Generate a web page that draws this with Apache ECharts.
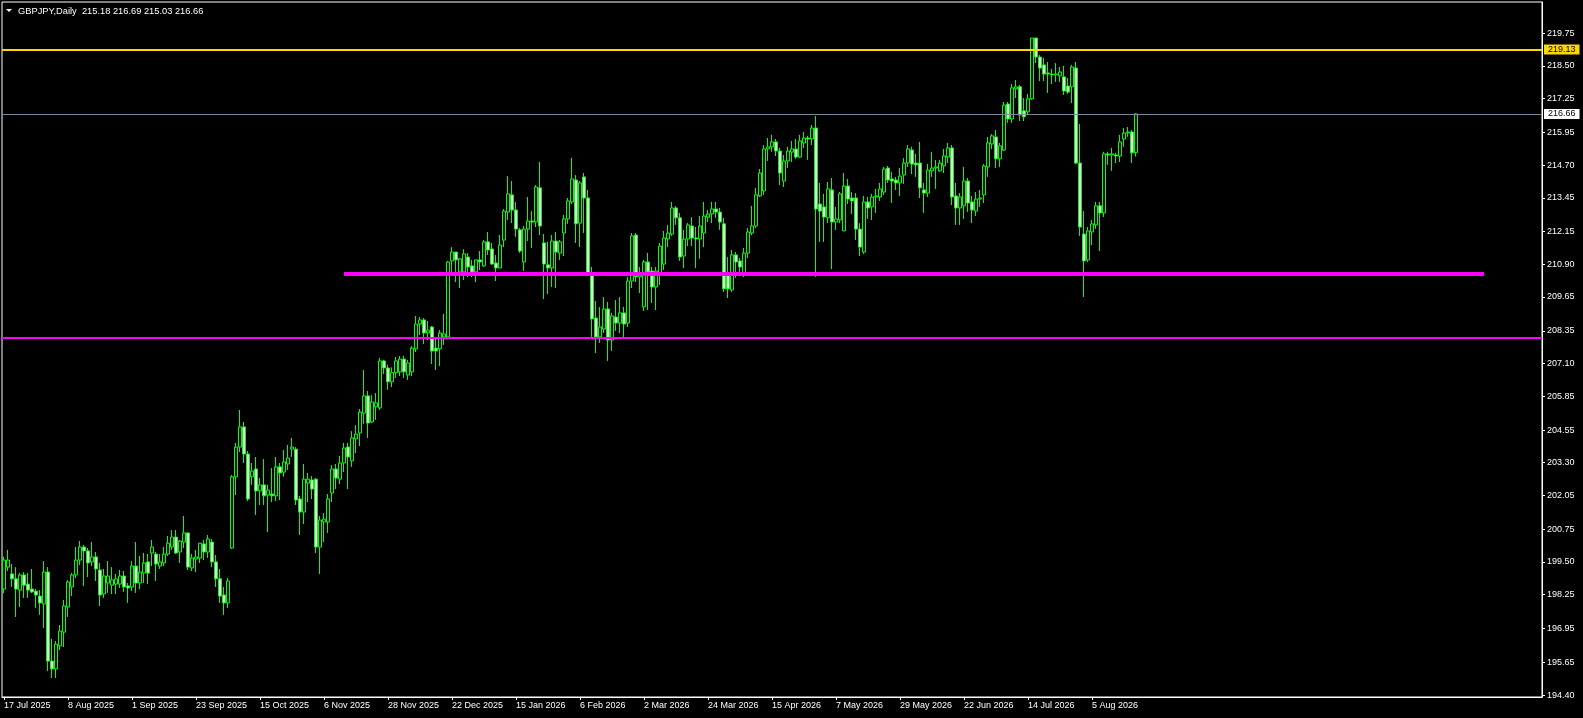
<!DOCTYPE html>
<html>
<head>
<meta charset="utf-8">
<script src="https://cdn.jsdelivr.net/npm/echarts@6/dist/echarts.min.js"></script>
<style>
html,body{margin:0;padding:0;background:#000;}
#chart{width:1583px;height:718px;}
</style>
</head>
<body>
<div id="chart"></div>
<script>
// ---------- data ----------
const symbolName = 'GBPJPY';
const timeframe = 'Daily';
const firstDate = '2025-07-17';
const holidays = ['2025-12-25', '2026-01-01'];
const totalSlots = 385; // bars visible across the chart width (incl. empty future)

const opens = [
198.46,199.30,199.04,198.85,198.42,199.00,198.65,198.46,198.38,198.19,
197.89,199.11,195.70,195.40,196.28,196.81,197.77,198.54,199.00,199.57,
200.07,199.92,199.50,199.69,199.19,198.27,198.69,198.61,198.65,198.65,
198.96,198.58,198.54,199.34,198.69,199.07,199.50,199.84,199.80,199.34,
199.46,199.80,200.07,200.45,199.88,200.26,200.61,199.27,199.61,199.65,
200.19,199.88,200.26,199.50,198.85,198.23,197.93,200.03,202.76,203.90,
204.67,203.63,202.76,203.06,202.22,202.45,202.06,202.10,202.03,203.14,
202.94,203.25,203.82,203.82,201.91,201.41,202.52,202.64,202.67,200.07,
201.03,201.03,202.14,203.06,202.67,203.29,203.90,203.37,204.21,204.44,
205.20,205.86,204.86,205.44,205.40,207.20,206.93,206.40,206.75,206.78,
207.27,206.66,206.78,207.66,208.61,208.77,208.27,208.50,207.69,207.66,
208.12,208.12,211.03,211.37,210.61,210.61,211.18,210.84,210.61,211.07,
210.84,211.76,211.49,210.95,210.76,211.83,212.90,213.56,212.98,212.22,
210.99,212.25,212.56,212.52,213.83,211.72,210.88,210.76,211.79,211.33,
212.10,212.64,213.29,214.13,212.48,214.25,213.44,210.57,208.84,208.12,
208.42,209.19,208.00,208.88,208.65,209.04,208.65,210.26,212.02,210.42,
209.27,210.99,210.64,210.03,210.57,210.91,211.87,212.06,213.06,212.68,
211.22,211.87,212.37,211.91,211.87,212.10,212.71,212.83,213.02,212.90,
212.45,210.57,209.92,211.26,211.03,210.57,211.33,212.10,212.37,213.52,
213.71,215.32,215.40,215.59,215.24,214.09,214.86,215.20,215.32,215.01,
215.55,215.74,215.70,216.12,213.21,213.10,212.68,213.75,212.52,212.60,
212.18,213.90,213.44,213.44,212.25,211.37,213.29,213.10,213.48,213.48,
213.67,214.59,214.17,214.13,214.02,214.32,214.78,215.28,214.78,214.78,
213.75,213.63,214.48,214.59,214.48,214.67,215.01,215.36,213.52,213.06,
213.14,214.09,213.29,212.94,213.40,213.56,214.63,215.51,215.78,214.94,
215.28,217.04,216.47,217.62,217.70,216.78,216.74,217.24,219.57,218.84,
218.54,218.23,218.19,218.16,218.12,218.08,217.73,217.70,218.42,214.78,
212.06,211.07,212.14,212.41,213.14,212.87,215.13,215.09,215.09,215.05,
215.70,215.93,215.97,215.18
];
const closes = [
199.57,199.57,198.85,198.46,199.00,198.61,198.42,198.35,198.23,197.93,
199.11,195.70,195.40,196.35,196.85,197.81,198.73,199.00,199.57,200.07,
199.92,199.46,199.69,199.23,198.23,198.96,198.96,198.81,198.85,198.96,
198.54,198.50,199.34,198.69,199.11,199.46,199.07,200.07,199.42,199.50,
199.80,200.22,200.45,199.84,200.30,200.61,199.30,199.65,199.69,200.22,
199.88,200.38,199.50,198.85,198.19,197.93,198.77,202.76,203.90,204.67,
203.63,201.91,202.98,202.22,202.45,202.03,202.25,202.03,203.14,202.91,
203.33,203.48,203.90,201.87,201.41,202.67,202.67,202.29,200.07,201.10,
201.14,201.91,203.06,202.71,203.29,203.86,203.52,204.25,204.40,205.24,
205.86,204.82,205.63,205.59,207.20,206.93,206.40,206.75,207.20,207.27,
206.78,207.12,207.69,208.61,208.77,208.27,208.38,207.58,207.58,208.27,
208.23,210.99,211.37,211.07,211.11,211.30,210.80,210.61,211.07,210.99,
211.76,211.45,210.91,210.76,211.64,212.94,213.60,212.98,212.25,211.41,
212.25,212.56,212.52,213.86,212.37,210.91,210.76,211.79,211.37,211.76,
212.64,213.33,214.17,212.45,214.02,213.44,210.57,208.81,208.12,208.50,
209.19,208.00,208.92,208.65,209.04,208.61,210.26,211.99,210.42,210.49,
210.99,210.61,210.03,210.64,211.60,211.91,212.10,213.06,212.68,211.18,
211.87,212.41,211.91,211.87,212.37,212.75,212.83,213.02,212.90,212.52,
209.96,209.96,211.26,210.99,210.80,211.33,212.14,212.37,213.56,214.40,
215.32,215.40,215.59,215.24,214.40,214.86,215.24,215.32,215.01,215.63,
215.74,215.70,216.12,213.02,212.94,212.71,213.79,212.52,212.64,213.60,
213.90,213.40,213.33,212.25,211.56,213.29,213.06,213.48,213.52,213.79,
214.55,214.13,214.09,214.02,214.28,214.78,215.32,214.74,214.71,213.83,
213.63,214.51,214.59,214.63,214.78,215.05,215.36,213.48,213.06,213.48,
214.09,213.25,212.98,213.40,213.44,214.67,215.55,215.82,214.94,215.44,
217.00,216.47,217.66,217.70,216.62,216.55,217.24,219.57,218.84,218.42,
218.19,218.19,218.16,218.19,218.27,217.54,217.50,218.46,214.78,212.33,
211.03,212.18,212.45,213.14,212.87,215.13,215.09,215.13,215.05,215.59,
215.93,215.97,215.17,216.66
];
const lows = [
198.30,199.15,198.54,197.39,197.77,198.12,198.12,198.31,197.73,197.47,
196.97,195.32,195.05,195.05,196.12,196.24,197.39,198.19,198.88,199.38,
198.58,198.92,199.34,198.77,197.81,198.12,198.31,198.27,198.27,198.50,
198.35,197.93,198.38,198.31,198.46,198.69,198.65,199.34,198.77,199.23,
199.34,199.73,199.96,199.80,199.46,200.03,199.19,199.15,199.11,199.46,
199.57,199.65,199.30,198.54,197.93,197.47,197.73,199.99,202.06,203.71,
203.29,201.83,202.45,201.30,201.68,201.68,200.64,201.79,201.83,201.87,
202.76,203.02,203.52,201.68,200.53,200.95,201.79,201.91,199.84,199.04,
200.26,200.61,201.79,202.29,202.48,202.94,202.29,203.14,203.67,203.94,
204.79,204.25,204.82,204.94,205.32,206.70,206.10,206.20,206.55,206.62,
206.55,206.47,206.62,207.54,208.19,207.85,208.00,207.08,206.85,207.00,
207.81,208.08,210.61,210.22,209.99,210.30,210.41,210.41,210.22,210.68,
210.80,211.26,210.88,210.26,210.76,211.56,212.60,212.48,211.95,211.34,
210.64,211.79,211.53,212.33,212.02,209.57,209.76,210.03,209.99,211.07,
211.22,212.45,213.21,211.72,211.56,212.10,210.57,208.12,207.50,207.89,
208.27,207.20,207.58,208.35,208.27,208.08,208.50,209.99,210.22,209.80,
209.11,209.15,209.42,209.15,210.11,210.68,211.56,211.99,212.41,211.03,
210.76,211.60,211.60,210.76,211.11,211.56,212.52,212.48,212.68,212.22,
209.84,209.61,209.84,210.38,210.61,210.41,211.14,212.02,212.29,213.48,
213.56,214.86,215.21,215.05,213.94,213.86,214.59,214.82,214.94,214.98,
215.36,214.90,215.47,210.42,211.76,211.76,212.48,210.72,212.22,212.48,
212.18,213.21,212.83,211.83,211.22,211.30,212.64,212.60,212.87,213.33,
213.56,214.02,213.25,213.75,213.52,213.98,214.63,214.36,214.25,213.44,
212.87,213.48,214.25,213.79,214.44,214.40,214.78,213.17,212.41,212.41,
212.64,212.91,212.48,212.75,213.10,213.25,214.25,215.32,214.59,214.63,
215.24,216.32,216.32,217.27,216.39,216.39,216.62,217.20,218.61,217.92,
217.92,217.47,217.81,217.89,217.89,217.39,217.43,217.08,214.74,211.99,
209.65,210.99,211.64,212.26,211.41,212.71,214.71,214.48,214.78,214.82,
215.40,215.78,214.78,215.03
];
const highs = [
199.70,199.96,199.42,199.30,199.07,199.11,199.07,199.23,198.46,198.42,
199.53,199.30,196.55,196.47,197.08,198.04,198.81,199.07,200.07,200.30,
200.15,200.03,200.26,199.88,199.46,199.23,199.53,199.30,199.04,199.19,
199.15,198.69,199.53,200.26,199.73,199.84,199.80,200.34,199.88,199.80,
200.07,200.49,200.72,200.72,200.34,201.26,200.61,199.80,199.96,200.22,
200.34,200.53,200.38,199.76,199.23,198.54,198.88,202.83,204.06,205.32,
204.86,203.75,203.29,203.52,202.71,203.44,202.45,203.10,203.52,203.29,
203.79,203.98,204.25,203.90,202.03,203.25,202.91,202.79,202.71,201.26,
201.37,202.10,203.21,203.25,203.56,204.06,204.06,204.51,204.74,205.36,
206.85,206.05,205.89,205.97,207.31,207.24,207.05,206.95,207.35,207.39,
207.39,207.24,207.77,208.92,208.88,208.84,208.73,208.54,208.08,208.38,
209.00,211.03,211.56,211.37,211.14,211.48,211.33,211.07,211.07,211.41,
211.83,212.14,211.72,211.26,212.02,213.02,214.28,214.09,213.29,212.29,
212.37,213.48,212.94,213.94,214.82,212.06,211.76,212.02,212.14,211.83,
212.79,213.44,214.98,214.32,214.09,214.40,213.75,210.80,209.50,209.26,
209.65,209.46,209.04,209.53,209.65,209.27,210.42,212.10,212.10,210.80,
211.07,211.34,210.80,210.80,211.72,212.18,212.41,213.29,213.13,212.87,
212.22,212.48,212.71,212.33,212.75,213.29,212.98,213.29,213.29,213.06,
212.68,211.18,211.45,211.37,211.14,211.53,212.29,213.14,213.83,214.55,
215.47,215.74,215.86,215.70,215.36,215.09,215.40,215.63,215.70,215.86,
215.97,215.82,216.24,216.58,214.02,213.60,214.06,214.21,213.10,213.67,
214.40,214.17,213.67,213.63,212.48,213.52,213.48,213.60,213.79,214.02,
214.63,214.67,214.44,214.25,214.59,214.97,215.47,215.40,215.13,215.59,
214.02,214.74,215.21,214.90,214.90,215.32,215.55,215.47,214.02,213.63,
214.63,214.21,213.52,213.67,213.75,214.74,215.78,215.89,216.05,215.55,
217.12,217.12,217.81,217.96,217.77,217.27,217.43,219.57,219.57,218.92,
218.81,218.65,218.39,218.61,218.46,218.50,218.04,218.54,218.65,216.28,
212.94,212.33,212.60,213.29,213.29,215.21,215.21,215.36,215.17,215.86,
216.12,216.16,216.05,216.69
];

const yTicks = [194.40,195.65,196.95,198.25,199.50,200.75,202.05,203.30,204.55,205.85,
  207.10,208.35,209.65,210.90,212.15,213.45,214.70,215.95,217.25,218.50,219.75];
const yMin = 194.324;
const yMax = 220.95;

const resistanceLevel = 219.13;     // gold line
const lowerSupportLevel = 208.07;   // thin magenta line
const supportLevel = 210.53;        // thick magenta segment
const supportFromBar = 85;
const supportToBar = 370;
const labelEvery = 16;

// ---------- categories ----------
const MONTHS = ['Jan','Feb','Mar','Apr','May','Jun','Jul','Aug','Sep','Oct','Nov','Dec'];
function tradingDays(start, count, skip) {
  const out = [];
  const d = new Date(start + 'T00:00:00Z');
  while (out.length < count) {
    const wd = d.getUTCDay();
    const iso = d.toISOString().slice(0, 10);
    if (wd !== 0 && wd !== 6 && skip.indexOf(iso) < 0) {
      out.push(d.getUTCDate() + ' ' + MONTHS[d.getUTCMonth()] + ' ' + d.getUTCFullYear());
    }
    d.setUTCDate(d.getUTCDate() + 1);
  }
  return out;
}
const dates = tradingDays(firstDate, opens.length, holidays);
const categories = dates.concat(new Array(totalSlots - dates.length).fill(''));
const candleData = opens.map((o, i) => [o, closes[i], lows[i], highs[i]]);

const last = opens.length - 1;
const bidLevel = closes[last];
const titleText = symbolName + ',' + timeframe + '  ' +
  opens[last].toFixed(2) + ' ' + highs[last].toFixed(2) + ' ' +
  lows[last].toFixed(2) + ' ' + closes[last].toFixed(2);

const FONT = 'Liberation Sans';
const showAt = (i, v) => v !== '' && i % labelEvery === 0;

const chart = echarts.init(document.getElementById('chart'), null, {renderer: 'canvas'});
chart.setOption({
  animation: false,
  backgroundColor: '#000',
  textStyle: {fontFamily: FONT},
  grid: {left: 2, right: 41, top: 2, bottom: 21, show: true, borderColor: '#fff', borderWidth: 1, backgroundColor: '#000'},
  xAxis: {
    type: 'category',
    data: categories,
    boundaryGap: true,
    axisLine: {show: true, lineStyle: {color: '#fff', width: 1}},
    axisTick: {show: true, alignWithLabel: true, interval: showAt, length: 3, lineStyle: {color: '#fff'}},
    axisLabel: {show: true, interval: showAt, color: '#fff', fontSize: 9, fontFamily: FONT, align: 'left', margin: 4},
    splitLine: {show: false}
  },
  yAxis: {
    type: 'value',
    position: 'right',
    min: yMin,
    max: yMax,
    axisLine: {show: true, lineStyle: {color: '#fff'}},
    axisTick: {show: true, length: 3, lineStyle: {color: '#fff'}, customValues: yTicks},
    axisLabel: {show: true, customValues: yTicks, formatter: v => v.toFixed(2), color: '#fff', fontSize: 9, fontFamily: FONT, margin: 5},
    splitLine: {show: false}
  },
  graphic: [
    {type: 'polygon', silent: true, shape: {points: [[6, 9], [12, 9], [9, 12]]}, style: {fill: '#fff'}},
    {type: 'text', silent: true, x: 18, y: 11, style: {text: titleText, fill: '#fff', font: '9.3px "' + FONT + '"', verticalAlign: 'middle'}}
  ],
  series: [{
    type: 'candlestick',
    data: candleData,
    barWidth: 3,
    silent: true,
    itemStyle: {
      color: '#000000', color0: '#ffffff',
      borderColor: '#00ff00', borderColor0: '#00ff00', borderColorDoji: '#00ff00',
      borderWidth: 1
    },
    markLine: {
      symbol: 'none',
      silent: true,
      animation: false,
      data: [
        {yAxis: resistanceLevel, lineStyle: {color: '#FFD700', width: 2, type: 'solid'},
          label: {show: true, position: 'end', distance: 2, formatter: resistanceLevel.toFixed(2),
            backgroundColor: '#FFD700', color: '#000', fontSize: 9, fontFamily: FONT, lineHeight: 9, padding: [1, 4, 0, 4]}},
        {yAxis: bidLevel, lineStyle: {color: '#778899', width: 1, type: 'solid'},
          label: {show: true, position: 'end', distance: 2, formatter: bidLevel.toFixed(2),
            backgroundColor: '#ffffff', color: '#000', fontSize: 9, fontFamily: FONT, lineHeight: 9, padding: [1, 4, 0, 4]}},
        {yAxis: lowerSupportLevel, lineStyle: {color: '#FF00FF', width: 2, type: 'solid'}, label: {show: false}},
        [
          {coord: [supportFromBar, supportLevel], lineStyle: {color: '#FF00FF', width: 4, type: 'solid'}, label: {show: false}},
          {coord: [supportToBar, supportLevel]}
        ]
      ]
    }
  }]
});
</script>
</body>
</html>
